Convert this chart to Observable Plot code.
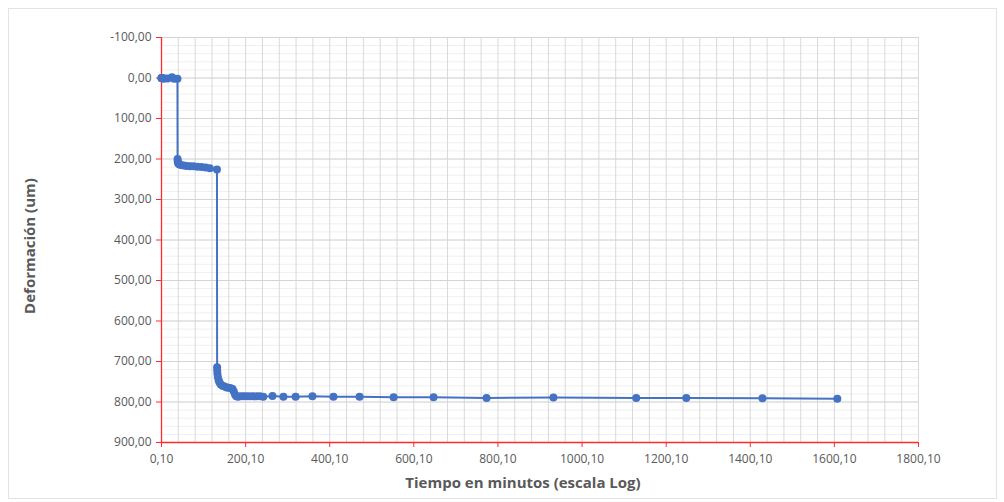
<!DOCTYPE html>
<html>
<head>
<meta charset="utf-8">
<script src="https://cdn.jsdelivr.net/npm/d3@7"></script>
<script src="https://cdn.jsdelivr.net/npm/@observablehq/plot@0.6"></script>
<style>
  html, body { margin: 0; padding: 0; background: #ffffff; }
  #wrap { position: relative; width: 1004px; height: 502px; overflow: hidden; }
  #frame { position: absolute; left: 8px; top: 8px; width: 989px; height: 491px; border: 1px solid #e3e3e3; box-sizing: border-box; pointer-events: none; }
  #chart { position: absolute; left: 0; top: 0; }
</style>
</head>
<body>
<div id="wrap"><div id="frame"></div><div id="chart"></div></div>
<script>
// Time (minutes) of each reading
const tiempo = [
  0.1, 0.25, 0.5, 1, 2, 4, 8, 15, 25, 30, 38,
  38.35, 38.6, 39.1, 40.1, 42, 46, 53, 60, 68, 76, 85, 95, 105, 115, 132,
  132.35, 132.6, 133.1, 134.1, 136, 138, 141, 145, 150, 155, 160, 165, 169, 172, 175, 178,
  182, 188, 195, 202, 210, 218, 226, 234, 242, 264, 290, 319, 359, 409, 471, 552, 647,
  773, 932, 1129, 1248, 1429, 1607
];
// Deformation (um) of each reading
const deformacion = [
  0, 0.2, 0.4, 0.6, 0.8, 1, 1.2, 1.5, -2, 1.8, 2,
  200, 205, 208, 211, 213, 215, 216, 217, 218, 218, 219, 220, 221, 223, 226,
  714, 722, 730, 738, 746, 752, 757, 760, 762, 764, 765, 766, 768, 774, 782, 786,
  787, 786, 786, 786, 786, 786, 786, 786, 787, 785, 787, 787, 786, 787, 787, 788, 788,
  790, 789, 790, 790, 791, 792
];
// Axis ticks
const xTicks = [0.1, 200.1, 400.1, 600.1, 800.1, 1000.1, 1200.1, 1400.1, 1600.1, 1800.1];
const yTicks = [-100, 0, 100, 200, 300, 400, 500, 600, 700, 800, 900];
const xMinor = d3.range(0, 46).map(i => 0.1 + 40 * i);
const yMinor = d3.range(0, 51).map(i => -100 + 20 * i);
const xTitle = "Tiempo en minutos (escala Log)";
const yTitle = "Deformación (um)";

const data = tiempo.map((t, i) => ({t, d: deformacion[i]}));
const fmt = v => v.toFixed(2).replace(".", ",");
const blue = "#4472C4";
const font = "'Open Sans', 'Liberation Sans', sans-serif";

const chart = Plot.plot({
  width: 1004,
  height: 502,
  marginLeft: 161,
  marginRight: 86,
  marginTop: 37,
  marginBottom: 60,
  style: {fontFamily: font, fontSize: "12px", background: "transparent", color: "#595959"},
  x: {type: "linear", domain: [0.1, 1800.1]},
  y: {type: "linear", domain: [-100, 900], reverse: true},
  marks: [
    Plot.ruleY(yMinor, {stroke: "#efefef", strokeWidth: 1}),
    Plot.ruleX(xMinor, {stroke: "#d9d9d9", strokeWidth: 1}),
    Plot.ruleY(yTicks, {stroke: "#d4d4d4", strokeWidth: 1}),
    Plot.axisX({ticks: xTicks, tickFormat: fmt, tickSize: 5, tickPadding: 7, color: "#595959", stroke: "#ff2a2a", fontSize: 12, label: null}),
    Plot.axisY({ticks: yTicks, tickFormat: fmt, tickSize: 5, tickPadding: 5, color: "#595959", stroke: "#ff2a2a", fontSize: 12, label: null}),
    Plot.ruleX([0.1], {stroke: "#ff2a2a", strokeWidth: 1.3}),
    Plot.ruleY([900], {stroke: "#ff2a2a", strokeWidth: 1.3}),
    Plot.line(data, {x: "t", y: "d", stroke: blue, strokeWidth: 2}),
    Plot.dot(data, {x: "t", y: "d", r: 4, fill: blue, stroke: "none"}),
    Plot.text([xTitle], {frameAnchor: "bottom", textAnchor: "middle", dx: -17, dy: 45, text: d => d, fontWeight: "bold", fontSize: 15, fill: "#595959"}),
    Plot.text([yTitle], {frameAnchor: "left", textAnchor: "middle", dx: -131, dy: 6, rotate: -90, text: d => d, fontWeight: "bold", fontSize: 15, fill: "#595959"})
  ]
});
document.getElementById("chart").appendChild(chart);
</script>
</body>
</html>
